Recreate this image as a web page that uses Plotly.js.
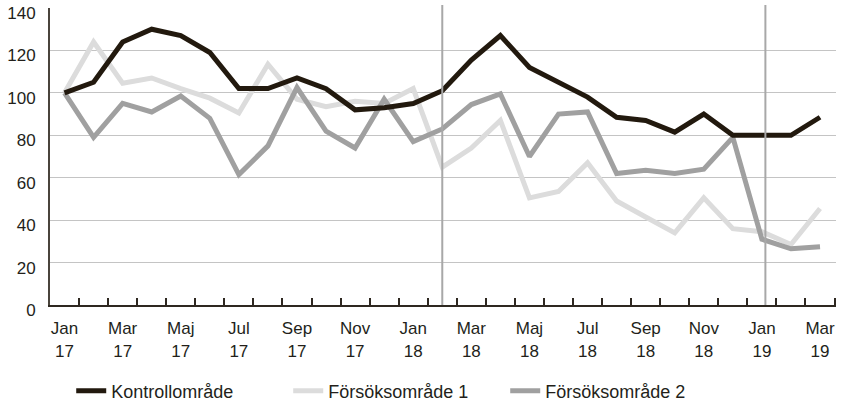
<!DOCTYPE html>
<html>
<head>
<meta charset="utf-8">
<script src="https://cdn.plot.ly/plotly-3.0.1.min.js"></script>
<style>html,body{margin:0;padding:0;background:#fff;}#chart{width:841px;height:404px;}</style>
</head>
<body>
<div id="chart"></div>
<script>
var months = ['Jan 17','Feb 17','Mar 17','Apr 17','Maj 17','Jun 17','Jul 17','Aug 17','Sep 17','Okt 17','Nov 17','Dec 17',
              'Jan 18','Feb 18','Mar 18','Apr 18','Maj 18','Jun 18','Jul 18','Aug 18','Sep 18','Okt 18','Nov 18','Dec 18',
              'Jan 19','Feb 19','Mar 19'];
var kontroll = [100,105,124,130,127,119,102,102,107,102,92,93,95,101,115.5,127,112,105,98,88.5,87,81.5,90,80,80,80,88.5];
var forsok1  = [100,124,104.5,107,102,97.5,90.5,113.5,97,93.5,96,95,102,65,74,87,50.5,53.5,67,49,41.5,34,50.5,36,34.5,28.5,45.5];
var forsok2  = [100,79,95,91,98.5,88,61.5,75,102.5,82,74,97,77,83,94.5,99.5,70,90,91,62,63.5,62,64,79,31,26.5,27.5];
var seriesNames = ['Kontrollområde','Försöksområde 1','Försöksområde 2'];
var yTicks = [0,20,40,60,80,100,120,140];
var markerMonths = ['Feb 18','Jan 19'];

var idx = months.map(function(m,i){return i;});
var tickIdx = idx.filter(function(i){return i%2===0;});
var tickText = tickIdx.map(function(i){var p=months[i].split(' ');return p[0]+'<br>'+p[1];});
var bounds = idx.map(function(i){return i-0.5;}).concat([months.length-0.5]);

var txt = '#231f1a';
var fontFam = 'Liberation Sans, Arial, sans-serif';

var traces = [
  {x: idx, y: forsok1, name: seriesNames[1], type:'scatter', mode:'lines', line:{color:'#dcdcdc', width:5}, legendrank:2},
  {x: idx, y: forsok2, name: seriesNames[2], type:'scatter', mode:'lines', line:{color:'#a0a0a0', width:5}, legendrank:3},
  {x: idx, y: kontroll, name: seriesNames[0], type:'scatter', mode:'lines', line:{color:'#22190e', width:5}, legendrank:1}
];

var shapes = markerMonths.map(function(m,k){
  var xi = months.indexOf(m) + (k===1 ? 0.12 : 0);
  return {type:'line', xref:'x', yref:'paper', x0:xi, x1:xi, y0:0, y1:1.01, line:{color:'#a8a8a8', width:2}, layer:'above'};
});

var layout = {
  width: 841, height: 404,
  margin: {l:50, r:5, t:8, b:99, autoexpand:false},
  paper_bgcolor:'#fff', plot_bgcolor:'#fff',
  font: {family: fontFam, size: 17, color: txt},
  showlegend: true,
  legend: {orientation:'h', x:0.027, xanchor:'left', yref:'container', y:0.032, yanchor:'middle',
           traceorder:'normal', font:{size:18, color:txt}, entrywidth:172, entrywidthmode:'pixels'},
  xaxis: {
    automargin:false,
    range:[-0.5, months.length-0.45], tickmode:'array', tickvals: tickIdx, ticktext: tickText,
    ticks:'inside', ticklen:0, tickcolor:'#2e2820', showgrid:false, zeroline:false, showline:true, linecolor:'#2e2820', linewidth:2,
    tickfont:{size:17, color:txt}, ticklabelstandoff: 7,
    minor: {tickmode:'array', tickvals: bounds, ticks:'inside', ticklen:7, tickwidth:2, tickcolor:'#2e2820', showgrid:false}
  },
  yaxis: {
    automargin:false,
    range:[0,140], tickmode:'array', tickvals: yTicks, ticks:'', showgrid:true, gridcolor:'#c4c4c4', gridwidth:1.2,
    zeroline:false, showline:true, linecolor:'#4a443c', linewidth:2, tickfont:{size:17, color:txt},
    ticklabelstandoff: 9, ticklabelshift: 5
  },
  shapes: shapes
};

Plotly.newPlot('chart', traces, layout, {displayModeBar:false, staticPlot:true});
</script>
</body>
</html>
